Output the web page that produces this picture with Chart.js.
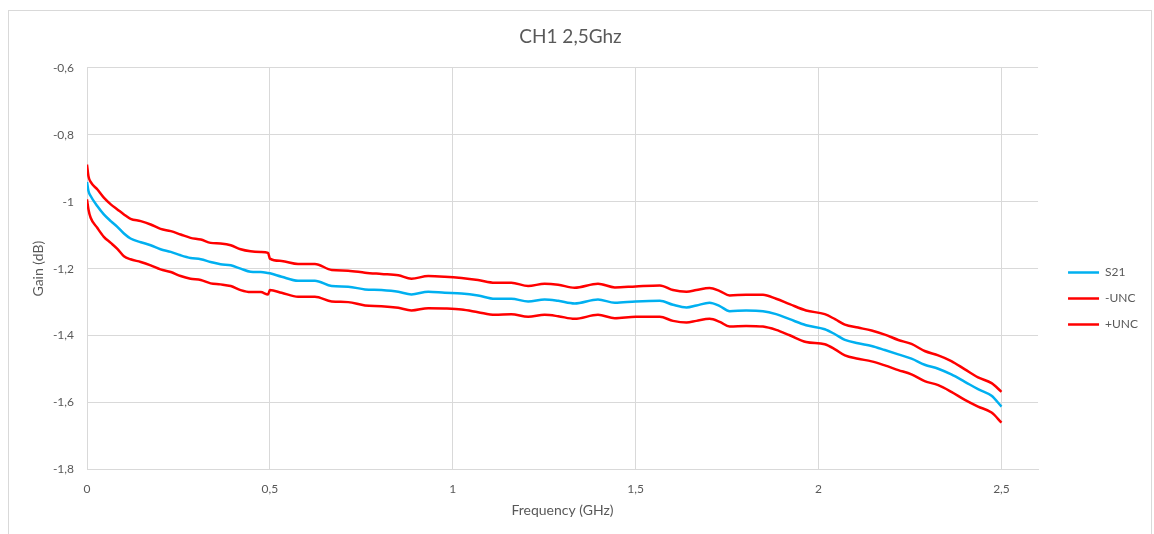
<!DOCTYPE html>
<html>
<head>
<meta charset="utf-8">
<script src="https://cdn.jsdelivr.net/npm/chart.js@4/dist/chart.umd.min.js"></script>
<style>
  html, body { margin: 0; background: #fff; overflow: hidden; }
  #frame { position: absolute; left: 8px; top: 10px; width: 1142px; height: 560px; border: 1px solid #d9d9d9; }
  #box { position: relative; width: 1142px; height: 523px; }
</style>
</head>
<body>
<div id="frame"><div id="box"><canvas id="gainChart"></canvas></div></div>
<script>
// frequency points (GHz)
const freqGHz = [0, 0.004, 0.01, 0.028, 0.046, 0.065, 0.083, 0.101, 0.119, 0.147, 0.174, 0.201, 0.229, 0.256, 0.283, 0.311, 0.338, 0.365, 0.393, 0.42, 0.447, 0.475, 0.495, 0.5,
  0.532, 0.577, 0.623, 0.669, 0.714, 0.76, 0.805, 0.851, 0.887, 0.933, 0.978,
  1.024, 1.069, 1.115, 1.16, 1.206, 1.251, 1.288, 1.333, 1.397, 1.443, 1.5,
  1.566, 1.602, 1.639, 1.666, 1.702, 1.73, 1.757, 1.802, 1.848, 1.884, 1.921, 1.966,
  2.017, 2.045, 2.072, 2.108, 2.145, 2.181, 2.218, 2.254, 2.29, 2.327, 2.363, 2.4, 2.436, 2.473, 2.5];

const s21 = [-0.941, -0.968, -0.983, -1.013, -1.038, -1.058, -1.075, -1.095, -1.110, -1.121, -1.130, -1.142, -1.150, -1.160, -1.168, -1.172, -1.180, -1.187, -1.190, -1.200, -1.209, -1.210, -1.213, -1.214,
  -1.224, -1.236, -1.236, -1.252, -1.254, -1.262, -1.264, -1.269, -1.277, -1.269, -1.272,
  -1.274, -1.280, -1.290, -1.290, -1.298, -1.292, -1.296, -1.304, -1.292, -1.302, -1.298,
  -1.296, -1.308, -1.316, -1.310, -1.302, -1.312, -1.327, -1.325, -1.327, -1.336, -1.351, -1.369,
  -1.381, -1.396, -1.413, -1.423, -1.431, -1.443, -1.456, -1.469, -1.487, -1.499, -1.516, -1.538, -1.560, -1.580, -1.612];

const uncMinus = [-0.993, -1.023, -1.048, -1.078, -1.105, -1.123, -1.141, -1.163, -1.172, -1.180, -1.190, -1.202, -1.210, -1.222, -1.230, -1.234, -1.244, -1.247, -1.252, -1.264, -1.270, -1.270, -1.277, -1.264,
  -1.272, -1.284, -1.284, -1.298, -1.300, -1.310, -1.312, -1.317, -1.325, -1.318, -1.319,
  -1.322, -1.330, -1.338, -1.336, -1.344, -1.338, -1.342, -1.350, -1.338, -1.348, -1.344,
  -1.344, -1.356, -1.361, -1.356, -1.350, -1.359, -1.373, -1.371, -1.373, -1.383, -1.399, -1.419,
  -1.426, -1.441, -1.459, -1.469, -1.477, -1.489, -1.503, -1.516, -1.536, -1.548, -1.568, -1.592, -1.612, -1.630, -1.660];

const uncPlus = [-0.889, -0.924, -0.941, -0.963, -0.988, -1.008, -1.023, -1.038, -1.051, -1.058, -1.068, -1.081, -1.088, -1.098, -1.108, -1.113, -1.123, -1.125, -1.130, -1.142, -1.148, -1.150, -1.153, -1.170,
  -1.177, -1.186, -1.186, -1.204, -1.206, -1.212, -1.216, -1.220, -1.230, -1.222, -1.224,
  -1.228, -1.234, -1.242, -1.242, -1.252, -1.245, -1.248, -1.257, -1.245, -1.256, -1.253,
  -1.250, -1.264, -1.269, -1.264, -1.258, -1.267, -1.280, -1.278, -1.278, -1.290, -1.306, -1.325,
  -1.336, -1.351, -1.367, -1.376, -1.385, -1.397, -1.413, -1.425, -1.446, -1.459, -1.476, -1.501, -1.525, -1.542, -1.568];

const xTicks = [0, 0.5, 1, 1.5, 2, 2.5];
const xTickLabels = ['0', '0,5', '1', '1,5', '2', '2,5'];
const yTicks = [-1.8, -1.6, -1.4, -1.2, -1, -0.8, -0.6];
const yTickLabels = ['-1,8', '-1,6', '-1,4', '-1,2', '-1', '-0,8', '-0,6'];

const textColor = '#595959';
const gridColor = '#d9d9d9';
const fontName = 'Lato, "Open Sans", sans-serif';

const toPoints = (ys) => ys.map((y, i) => ({ x: freqGHz[i], y: y }));

const series = (label, ys, color) => ({
  label: label,
  data: toPoints(ys),
  borderColor: color,
  backgroundColor: color,
  borderWidth: 2.5,
  pointRadius: 0,
  cubicInterpolationMode: 'monotone',
  fill: false,
});

// move the legend block to where Excel put it
const legendNudge = {
  id: 'legendNudge',
  afterLayout(chart) {
    const lg = chart.legend;
    if (!lg) return;
    const dx = 16, dy = 26;
    lg.left += dx; lg.right += dx;
    lg.top += dy; lg.bottom += dy;
  }
};

new Chart(document.getElementById('gainChart'), {
  type: 'line',
  data: {
    datasets: [
      series('S21', s21, '#00b0f0'),
      series('-UNC', uncMinus, '#ff0000'),
      series('+UNC', uncPlus, '#ff0000'),
    ],
  },
  options: {
    responsive: true,
    maintainAspectRatio: false,
    animation: false,
    layout: { padding: { left: 0, right: 19, top: 0, bottom: 0 } },
    plugins: {
      title: {
        display: true,
        text: 'CH1 2,5Ghz',
        color: textColor,
        font: { family: fontName, size: 19, weight: 'normal' },
        padding: { top: 14, bottom: 20 },
      },
      legend: {
        position: 'right',
        labels: {
          color: textColor,
          font: { family: fontName, size: 12 },
          boxWidth: 31,
          boxHeight: 0,
          padding: 14,
        },
      },
      tooltip: { enabled: false },
    },
    scales: {
      x: {
        type: 'linear',
        min: 0,
        max: 2.6,
        afterBuildTicks: (scale) => { scale.ticks = xTicks.map(v => ({ value: v })); },
        afterFit: (scale) => { scale.height = 64.5; },
        ticks: {
          color: textColor,
          font: { family: fontName, size: 12 },
          padding: 12,
          maxRotation: 0,
          callback: (value, index) => xTickLabels[index],
        },
        grid: { color: gridColor, lineWidth: 1, drawTicks: false },
        border: { color: gridColor, width: 1 },
        title: {
          display: true,
          text: 'Frequency (GHz)',
          color: textColor,
          font: { family: fontName, size: 14 },
          padding: { top: 0, bottom: 15 },
        },
      },
      y: {
        min: -1.8,
        max: -0.6,
        afterBuildTicks: (scale) => { scale.ticks = yTicks.map(v => ({ value: v })); },
        afterFit: (scale) => { scale.width = 78; },
        ticks: {
          color: textColor,
          font: { family: fontName, size: 12 },
          padding: 13,
          callback: (value, index) => yTickLabels[index],
        },
        grid: { color: gridColor, lineWidth: 1, drawTicks: false },
        border: { color: gridColor, width: 1 },
        title: {
          display: true,
          text: 'Gain (dB)',
          color: textColor,
          font: { family: fontName, size: 14 },
          padding: { top: 21, bottom: 0 },
        },
      },
    },
  },
  plugins: [legendNudge],
});
</script>
</body>
</html>
